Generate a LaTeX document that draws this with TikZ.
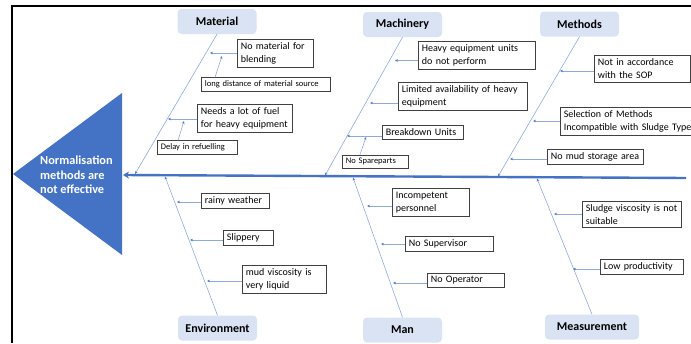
\documentclass[tikz,border=0pt]{standalone}
\usepackage{fontspec}
\setmainfont{Carlito}
\usetikzlibrary{arrows.meta}
\definecolor{spineblue}{HTML}{4472C4}
\definecolor{catfill}{HTML}{DAE3F3}
\definecolor{bonecol}{HTML}{8EA9DB}
\definecolor{arrcol}{HTML}{4F7BC8}
\definecolor{boxline}{HTML}{404040}
\begin{document}
\begin{tikzpicture}[x=1pt,y=-1pt,
 cat/.style={fill=catfill, rounded corners=4pt, minimum width=79pt, minimum height=25pt, font=\fontsize{12}{14}\selectfont\bfseries, inner sep=0pt},
 cause/.style={draw=boxline, line width=0.8pt, fill=white, align=left, inner xsep=3.5pt, inner ysep=3.2pt, font=\fontsize{10}{13}\selectfont, anchor=west},
 small/.style={font=\fontsize{8.5}{10}\selectfont, inner ysep=3pt},
 bone/.style={draw=bonecol, line width=0.6pt, -{Stealth[length=3pt,width=2.6pt,color=arrcol]}},
 arr/.style={draw=bonecol, line width=0.6pt, -{Stealth[length=3pt,width=2.6pt,color=arrcol]}},
 spine/.style={draw=spineblue, line width=2.4pt, -{Stealth[length=6pt,width=7pt]}}
]
\useasboundingbox (0,0) rectangle (691,343);
% frame
\draw[line width=2pt] (12,343) -- (12,6) -- (691,6);
% head
\fill[spineblue] (13,174) -- (122,93) -- (122,255) -- cycle;
\node[anchor=west, text=white, font=\fontsize{12.3}{14.5}\selectfont\bfseries, align=left, inner sep=0pt] (head) at (40,175) {Normalisation\\methods are\\not effective};
% spine
\coordinate (spL) at (123,175);
\coordinate (spR) at (686,178);
\draw[spine] (spR) -- (spL);
% categories
\node[cat] (mat) at (217,21.5) {Material};
\node[cat] (mach) at (402.5,24.5) {Machinery};
\node[cat] (meth) at (579.5,24) {Methods};
\node[cat] (env) at (217.5,328) {Environment};
\node[cat] (man) at (402.5,330) {Man};
\node[cat, minimum width=94pt] (meas) at (592,327) {Measurement};
% bones
\coordinate (bMat) at (135,174);
\coordinate (bMach) at (325,175.5);
\coordinate (bMeth) at (498,176.5);
\coordinate (bEnv) at (165,176.5);
\coordinate (bMan) at (353,177.5);
\coordinate (bMeas) at (537,178.5);
\draw[bone] (mat.south) -- (bMat);
\draw[bone] (mach.south) -- (bMach);
\draw[bone] (meth.south) -- (bMeth);
\draw[bone] (env.north) -- (bEnv);
\draw[bone] (man.north) -- (bMan);
\draw[bone] (meas.north) -- (bMeas);
% Material causes
\node[cause, text width=69pt] (c1) at (237,53) {\mbox{No material for}\\\mbox{blending}};
\node[cause, small, text width=122pt] (c2) at (201,84.5) {\mbox{long distance of material source}};
\node[cause, text width=88pt] (c3) at (197,118) {\mbox{Needs a lot of fuel}\\\mbox{for heavy equipment}};
\node[cause, small, text width=73pt] (c4) at (157,147.5) {\mbox{Delay in refuelling}};
\coordinate (t1) at (210,53);
\coordinate (s2) at (222,56);
\coordinate (t3) at (168,119);
\coordinate (s4) at (184,121);
\draw[arr] (c1.west |- t1) -- (t1);
\draw[arr] ([xshift=14pt]c2.north west) -- (s2);
\draw[arr] (c3.west |- t3) -- (t3);
\draw[arr] ([xshift=21pt]c4.north west) -- (s4);
% Machinery causes
\node[cause, text width=110pt] (c5) at (418,55.5) {\mbox{Heavy equipment units}\\\mbox{do not perform}};
\node[cause, text width=122pt] (c6) at (398,96.5) {\mbox{Limited availability of heavy}\\\mbox{equipment}};
\node[cause, text width=74pt] (c7) at (382,132.5) {\mbox{Breakdown Units}};
\node[cause, small, text width=59pt] (c8) at (342,161.5) {\mbox{No Spareparts}};
\coordinate (t5) at (395,60.5);
\coordinate (t6) at (370,103);
\coordinate (t7) at (347,136);
\coordinate (s8) at (366,137);
\draw[arr] (c5.west |- t5) -- (t5);
\draw[arr] (c6.west |- t6) -- (t6);
\draw[arr] (c7.west |- t7) -- (t7);
\draw[arr] ([xshift=18pt]c8.north west) -- (s8);
% Methods causes
\node[cause, text width=89pt] (c9) at (594,69) {\mbox{Not in accordance}\\\mbox{with the SOP}};
\node[cause, text width=130pt] (c10) at (560,121) {\mbox{Selection of Methods}\\\mbox{Incompatible with Sludge Type}};
\node[cause, text width=89pt] (c11) at (547,157) {\mbox{No mud storage area}};
\coordinate (t9) at (560,71);
\coordinate (t10) at (533,121);
\coordinate (t11) at (510,159);
\draw[arr] (c9.west |- t9) -- (t9);
\draw[arr] (c10.west |- t10) -- (t10);
\draw[arr] (c11.west |- t11) -- (t11);
% Environment causes
\node[cause, text width=61pt] (c12) at (201,200.5) {\mbox{rainy weather}};
\node[cause, text width=43pt] (c13) at (223,238) {\mbox{Slippery}};
\node[cause, text width=77pt] (c14) at (242,279) {\mbox{mud viscosity is}\\\mbox{very liquid}};
\coordinate (t12) at (177,202);
\coordinate (t13) at (190,240);
\coordinate (t14) at (207,281);
\draw[arr] (c12.west |- t12) -- (t12);
\draw[arr] (c13.west |- t13) -- (t13);
\draw[arr] (c14.west |- t14) -- (t14);
% Man causes
\node[cause, text width=70pt] (c15) at (392,202.5) {\mbox{Incompetent}\\\mbox{personnel}};
\node[cause, text width=81pt] (c16) at (405,244) {\mbox{No Supervisor}};
\node[cause, text width=70pt] (c17) at (427,280.5) {\mbox{No Operator}};
\coordinate (t15) at (367,206);
\coordinate (t16) at (381,244);
\coordinate (t17) at (393,283);
\draw[arr] (c15.west |- t15) -- (t15);
\draw[arr] (c16.west |- t16) -- (t16);
\draw[arr] (c17.west |- t17) -- (t17);
% Measurement causes
\node[cause, text width=92pt] (c18) at (582,214.5) {\mbox{Sludge viscosity is not}\\\mbox{suitable}};
\node[cause, text width=76pt] (c19) at (600,267) {\mbox{Low productivity}};
\coordinate (t18) at (554,214);
\coordinate (t19) at (573,269);
\draw[arr] (c18.west |- t18) -- (t18);
\draw[arr] (c19.west |- t19) -- (t19);
\end{tikzpicture}
\end{document}
